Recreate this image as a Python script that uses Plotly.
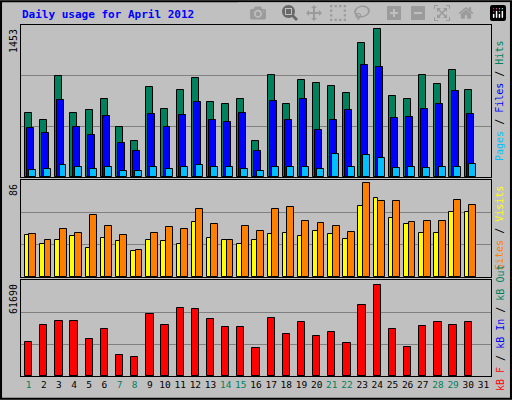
import plotly.graph_objects as go
from plotly.subplots import make_subplots

days = list(range(1, 31))
all_days = list(range(1, 32))
weekend_days = [1, 7, 8, 14, 15, 21, 22, 28, 29]

hits = [612, 545, 966, 612, 640, 746, 478, 344, 860, 650, 832, 946, 717, 698, 746,
        344, 975, 698, 927, 899, 870, 803, 1281, 1415, 774, 746, 975, 889, 1023, 832]
files = [468, 421, 736, 478, 402, 583, 325, 249, 602, 478, 593, 717, 545, 526, 612,
         249, 727, 545, 746, 449, 545, 641, 1071, 1052, 564, 574, 650, 698, 822, 602]
pages = [67, 76, 115, 96, 76, 96, 57, 57, 96, 76, 96, 115, 96, 96, 76,
         57, 96, 96, 96, 76, 220, 96, 210, 182, 86, 96, 86, 96, 96, 124]
visits = [37, 29, 33, 36, 26, 35, 32, 23, 33, 32, 29, 49, 35, 33, 29,
          33, 38, 39, 36, 41, 38, 34, 63, 70, 52, 47, 39, 39, 58, 58]
sites = [38, 33, 43, 39, 55, 45, 37, 24, 39, 44, 43, 60, 47, 33, 45,
         41, 60, 62, 50, 48, 45, 40, 83, 67, 67, 49, 50, 50, 68, 64]
kbytes = [22040, 32970, 35540, 35540, 23970, 30400, 13690, 12400, 40040, 32970,
          43890, 43250, 36820, 31680, 31680, 18190, 37460, 27180, 34890, 25900,
          28470, 21400, 45820, 58670, 30400, 18830, 32320, 34890, 32970, 34890]
max_hits, max_visits, max_kb = 1453, 86, 61690

BG = '#C0C0C0'
fig = make_subplots(rows=3, cols=1)

def bar(y, color, width, offset, row):
    fig.add_trace(go.Bar(x=days, y=y, width=width, offset=offset,
                         marker=dict(color=color, line=dict(color='black', width=1))),
                  row=row, col=1)

bar(hits, '#00805C', 0.46, -0.24, 1)
bar(files, '#0000FF', 0.46, -0.10, 1)
bar(pages, '#00C0FF', 0.46, 0.04, 1)
bar(visits, '#FFFF00', 0.30, -0.24, 2)
bar(sites, '#FF8000', 0.45, 0.06, 2)
bar(kbytes, '#FF0000', 0.48, -0.24, 3)

x0, x1 = 21 / 512, 491 / 512
doms = [(1 - 177 / 400, 1 - 25 / 400), (1 - 277 / 400, 1 - 180 / 400), (1 - 376 / 400, 1 - 280 / 400)]
maxes = [max_hits, max_visits, max_kb]
ticktext = [f'<span style="color:{"#00805C" if d in weekend_days else "black"}">{d}</span>'
            for d in all_days]
for i in range(3):
    n = i + 1
    fig.update_xaxes(row=n, col=1, domain=[x0, x1], range=[0.5, 31.5], showgrid=False,
                     zeroline=False, showline=True, linecolor='black', mirror=True,
                     showticklabels=(n == 3), tickvals=all_days, ticktext=ticktext,
                     ticks='', tickfont=dict(family='DejaVu Sans Mono', size=9.5, color='black'))
    fig.update_yaxes(row=n, col=1, domain=list(doms[i]), range=[0, maxes[i]],
                     dtick=maxes[i] / 3, showticklabels=False, showgrid=True,
                     gridcolor='#808080', zeroline=False, showline=True,
                     linecolor='black', mirror=True)

ann = [
    dict(x=20 / 512, y=1 - 15 / 400, text='<b>Daily usage for April 2012</b>', xanchor='left',
         yanchor='middle', font=dict(family='DejaVu Sans Mono', size=11, color='#0000FF')),
    dict(x=13 / 512, y=1 - 27 / 400, text='1453', textangle=-90, yanchor='top'),
    dict(x=13 / 512, y=1 - 182 / 400, text='86', textangle=-90, yanchor='top'),
    dict(x=13 / 512, y=1 - 282 / 400, text='61690', textangle=-90, yanchor='top'),
    dict(x=500 / 512, y=1 - 101 / 400, textangle=-90, yanchor='middle',
         text='<span style="color:#00C0FF">Pages</span> / <span style="color:#0000FF">Files</span>'
              ' / <span style="color:#00805C">Hits</span>'),
    dict(x=500 / 512, y=1 - 228 / 400, textangle=-90, yanchor='middle',
         text='<span style="color:#FF8000">Sites</span> / <span style="color:#FFFF00">Visits</span>'),
    dict(x=500 / 512, y=1 - 328 / 400, textangle=-90, yanchor='middle',
         text='<span style="color:#FF0000">kB F</span> / <span style="color:#0000FF">kB In</span>'
              ' / <span style="color:#00805C">kB Out</span>'),
]
for a in ann:
    a.setdefault('xanchor', 'center')
    a.setdefault('font', dict(family='DejaVu Sans Mono', size=10, color='black'))
    fig.add_annotation(xref='paper', yref='paper', showarrow=False, **a)

fig.add_shape(type='rect', xref='paper', yref='paper', x0=0.002, y0=0.003, x1=0.998, y1=0.997,
              line=dict(color='black', width=2))

fig.update_layout(width=512, height=400, margin=dict(l=0, r=0, t=0, b=0),
                  paper_bgcolor=BG, plot_bgcolor=BG, showlegend=False,
                  barmode='overlay', bargap=0)
fig.write_html('out.html', post_script="document.body.style.margin='0';")
